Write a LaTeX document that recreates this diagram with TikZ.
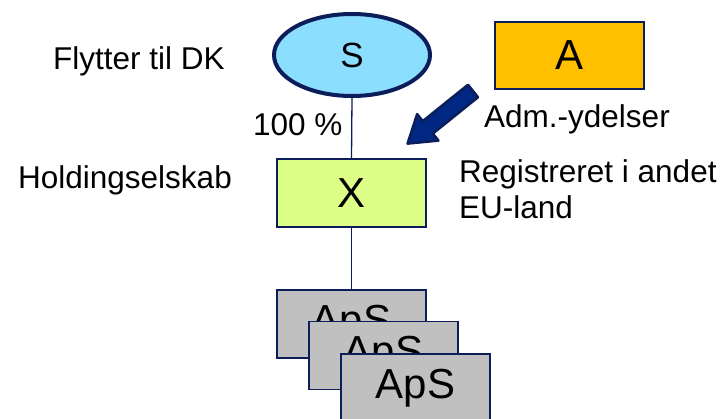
\documentclass[tikz,border=0pt]{standalone}
\usepackage{fontspec}
\setmainfont{Liberation Sans}
\usetikzlibrary{shapes.geometric}

\definecolor{navy}{RGB}{12,30,90}
\definecolor{arrowblue}{RGB}{0,40,130}
\definecolor{skyfill}{RGB}{140,222,255}
\definecolor{limefill}{RGB}{221,255,136}
\definecolor{orangefill}{RGB}{255,192,0}
\definecolor{apsgray}{RGB}{192,192,192}

\begin{document}
\begin{tikzpicture}[x=1pt, y=-1pt,
    bigtxt/.style={font=\fontsize{42}{48}\selectfont},
    smalltxt/.style={font=\fontsize{31.5}{36}\selectfont, inner sep=0pt},
    company/.style={draw=navy, line width=1.2pt, minimum width=149pt, minimum height=68pt, inner sep=0pt, bigtxt},
    link/.style={navy, line width=1.3pt}]
        \useasboundingbox (0, 0) rectangle (723, 419);

        % owner and service provider
        \node[ellipse, draw=navy, line width=4pt, fill=skyfill, minimum width=156pt, minimum height=82pt, inner sep=0pt,
              font=\fontsize{35}{40}\selectfont] (S) at (352, 55) {S};
        \node[company, fill=orangefill, minimum height=67pt] (A) at (569.5, 55.5) {A};

        % holding company
        \node[company, fill=limefill] (X) at (351.5, 193) {X};

        % subsidiaries
        \node[company, fill=apsgray] (aps1) at (351.5, 324) {ApS};
        \node[company, fill=apsgray] (aps2) at (383.5, 355.5) {ApS};
        \node[company, fill=apsgray] (aps3) at (415.5, 388) {ApS};

        \draw[link] (S.south) -- (X.north);
        \draw[link] (X.south) -- (aps1.north);

        % services arrow (block arrow drawn directly)
        \coordinate (arrtail) at (473, 91);
        \begin{scope}[shift={(arrtail)}, rotate=218.8]
            \filldraw[draw=navy, fill=arrowblue, line width=2.5pt, line join=round]
                (0, -8) -- (58, -8) -- (58, -17) -- (84, 0) -- (58, 17) -- (58, 8) -- (0, 8) -- cycle;
        \end{scope}

        % labels
        \node[smalltxt, anchor=base west] (flyt) at (53, 70) {Flytter til DK};
        \node[smalltxt, anchor=base west] (pct) at (253, 136) {100 \%};
        \node[smalltxt, anchor=base west] (hold) at (18, 189) {Holdingselskab};
        \node[smalltxt, anchor=base west] (adm) at (484, 128) {Adm.-ydelser};
        \node[smalltxt, anchor=north west, align=left] (reg) at (459, 159) {Registreret i andet\\EU-land};
    \end{tikzpicture}
\end{document}
